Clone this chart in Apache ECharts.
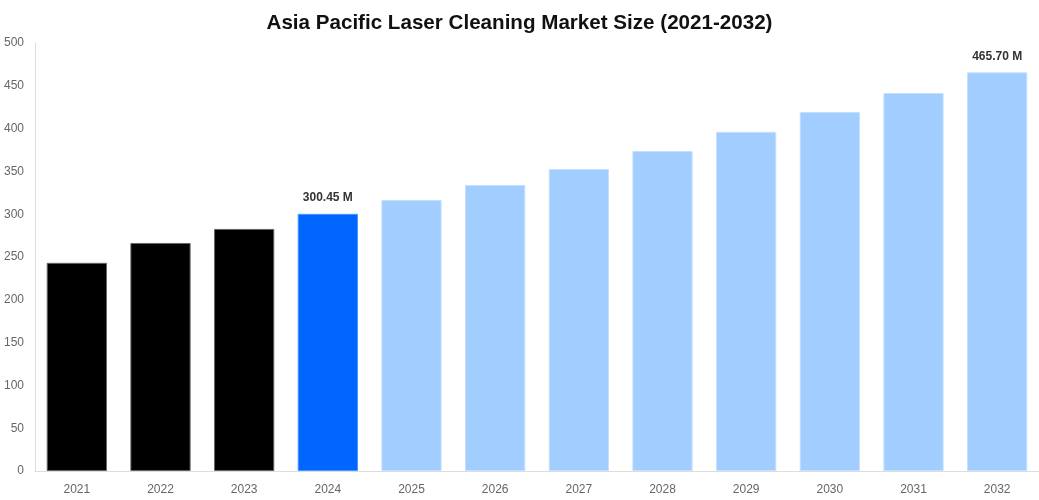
<!DOCTYPE html>
<html><head><meta charset="utf-8">
<script src="https://cdn.jsdelivr.net/npm/echarts@6/dist/echarts.min.js"></script>
<style>html,body{margin:0;padding:0;background:#fff}#c{width:1039px;height:500px}</style>
</head><body><div id="c"></div>
<script>
const categories = ['2021','2022','2023','2024','2025','2026','2027','2028','2029','2030','2031','2032'];
const values = [243.2, 266.4, 282.8, 300.45, 316.6, 334.1, 352.8, 373.8, 396.2, 419.4, 441.6, 465.7];
const labeled = {'2024':'300.45 M','2032':'465.70 M'};
const colorFor = y => (+y < 2024 ? '#000000' : (+y === 2024 ? '#0066ff' : '#a1cdff'));
const borderFor = y => (+y < 2024 ? '#666666' : (+y === 2024 ? '#4d94ff' : '#c6e0ff'));
const chart = echarts.init(document.getElementById('c'));
chart.setOption({
  animation:false,
  title:{text:'Asia Pacific Laser Cleaning Market Size (2021-2032)',left:'center',top:8,
    textStyle:{fontFamily:'Liberation Sans, Arial, sans-serif',fontSize:20.6,fontWeight:'bold',color:'#111'}},
  grid:{left:35,right:0,top:43,bottom:29,containLabel:false},
  xAxis:{type:'category',data:categories,
    axisLine:{lineStyle:{color:'#dddddd'}},axisTick:{show:false},
    axisLabel:{color:'#666',fontSize:12,fontFamily:'Liberation Sans, Arial, sans-serif',margin:13}},
  yAxis:{type:'value',min:0,max:500,interval:50,
    axisLine:{show:true,lineStyle:{color:'#dddddd'}},axisTick:{show:false},splitLine:{show:false},
    axisLabel:{color:'#666',fontSize:12,fontFamily:'Liberation Sans, Arial, sans-serif',margin:11}},
  series:[{type:'bar',barCategoryGap:'28%',
    data:values.map((v,i)=>({value:v,
      itemStyle:{color:colorFor(categories[i]),borderColor:borderFor(categories[i]),borderWidth:1},
      label:{show:!!labeled[categories[i]],formatter:labeled[categories[i]]||'',position:'top',distance:10,
        fontFamily:'Liberation Sans, Arial, sans-serif',fontSize:12,fontWeight:'bold',color:'#333'}}))
  }]
});
</script></body></html>
